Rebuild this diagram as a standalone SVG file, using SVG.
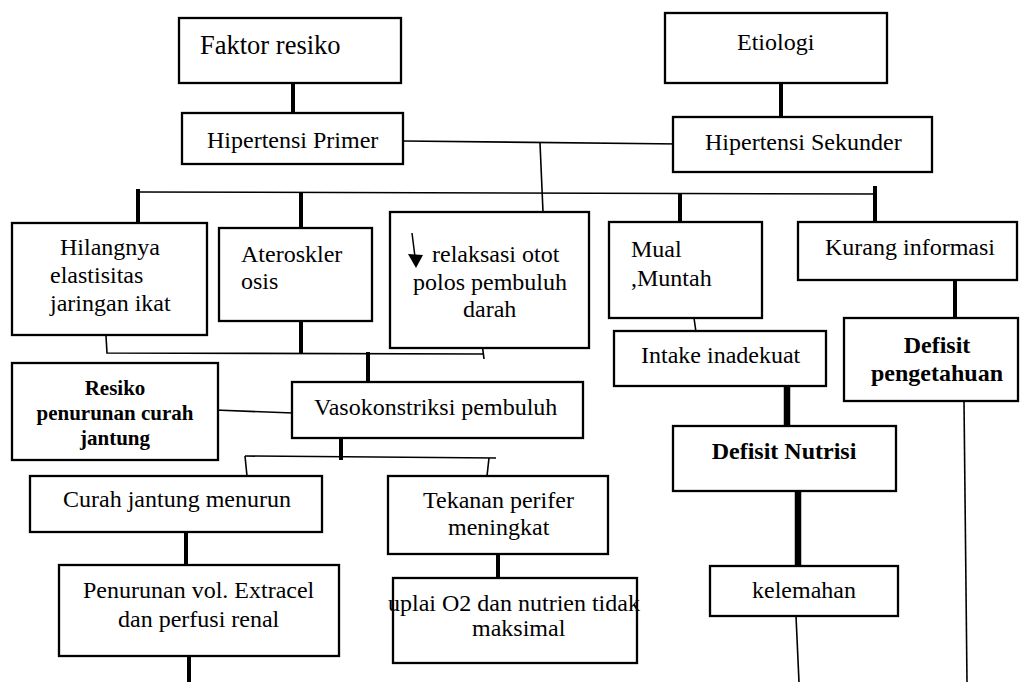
<svg xmlns="http://www.w3.org/2000/svg" width="1020" height="682" viewBox="0 0 1020 682">
<style>
.box{fill:#fff;stroke:#000;stroke-width:2.3}
.t{font-family:"Liberation Serif","Times New Roman",serif;font-size:24px;fill:#000}
.b{font-weight:bold}
.m{text-anchor:middle}
.thin{stroke:#000;stroke-width:1.6;fill:none}
.thick{stroke:#000;stroke-width:4;fill:none}
.thicker{stroke:#000;stroke-width:6.5;fill:none}
</style>
<rect width="1020" height="682" fill="#fff"/>
<g id="connectors">
<line class="thick" x1="293" y1="83" x2="293" y2="113"/>
<line class="thick" x1="781" y1="83" x2="781" y2="117"/>
<line class="thin" x1="404" y1="141" x2="680" y2="144"/>
<line class="thin" x1="540" y1="143" x2="543" y2="212"/>
<line class="thin" x1="138" y1="192" x2="877" y2="194"/>
<line class="thick" x1="138" y1="189" x2="138" y2="223"/>
<line class="thick" x1="301" y1="192" x2="301" y2="228"/>
<line class="thick" x1="680" y1="193" x2="680" y2="222"/>
<line class="thick" x1="875" y1="186" x2="875" y2="222"/>
<polyline class="thin" points="106,336 107,353 483,354"/>
<line class="thin" x1="482" y1="343" x2="484" y2="359"/>
<line class="thick" x1="301" y1="321" x2="301" y2="354"/>
<line class="thick" x1="368" y1="352" x2="368" y2="382"/>
<line class="thin" x1="215" y1="410" x2="293" y2="413"/>
<line class="thick" x1="341" y1="433" x2="341" y2="460"/>
<line class="thin" x1="245" y1="456" x2="496" y2="458"/>
<line class="thin" x1="245" y1="456" x2="247" y2="476"/>
<line class="thin" x1="489" y1="458" x2="487" y2="476"/>
<line class="thick" x1="186" y1="532" x2="186" y2="565"/>
<line class="thick" x1="498" y1="554" x2="498" y2="578"/>
<line class="thick" x1="189" y1="656" x2="189" y2="682"/>
<line class="thin" x1="694" y1="318" x2="697" y2="339"/>
<line class="thicker" x1="787" y1="386" x2="787" y2="426"/>
<line class="thicker" x1="798" y1="491" x2="798" y2="566"/>
<line class="thin" x1="796" y1="616" x2="799" y2="682"/>
<line class="thick" x1="955" y1="280" x2="955" y2="318"/>
<line class="thin" x1="964" y1="401" x2="967" y2="682"/>
</g>
<g id="faktor-resiko">
<rect class="box" x="179" y="18" width="222" height="65"/>
<text class="t" x="200" y="54" style="font-size:26.5px">Faktor resiko</text>
</g>
<g id="etiologi">
<rect class="box" x="665" y="13" width="222" height="70"/>
<text class="t" x="737" y="50">Etiologi</text>
</g>
<g id="hipertensi-primer">
<rect class="box" x="182" y="113" width="221" height="51"/>
<text class="t" x="207" y="148">Hipertensi Primer</text>
</g>
<g id="hipertensi-sekunder">
<rect class="box" x="673" y="117" width="259" height="55"/>
<text class="t" x="705" y="150">Hipertensi Sekunder</text>
</g>
<g id="hilangnya">
<rect class="box" x="12" y="223" width="195" height="112"/>
<text class="t" x="60" y="255">Hilangnya</text>
<text class="t" x="50" y="283">elastisitas</text>
<text class="t" x="50" y="311">jaringan ikat</text>
</g>
<g id="aterosklerosis">
<rect class="box" x="219" y="228" width="153" height="93"/>
<text class="t" x="241" y="262">Ateroskler</text>
<text class="t" x="241" y="289">osis</text>
</g>
<g id="relaksasi">
<rect class="box" x="390" y="212" width="199" height="136"/>
<line x1="412" y1="233" x2="415" y2="257" stroke="#000" stroke-width="1.5"/>
<polygon points="408,254 423,255 416,268" fill="#000"/>
<text class="t" x="432" y="262">relaksasi otot</text>
<text class="t" x="413" y="290">polos pembuluh</text>
<text class="t" x="463" y="317">darah</text>
</g>
<g id="mual-muntah">
<rect class="box" x="609" y="222" width="153" height="96"/>
<text class="t" x="631" y="257">Mual</text>
<text class="t" x="631" y="286">,Muntah</text>
</g>
<g id="kurang-informasi">
<rect class="box" x="798" y="222" width="219" height="58"/>
<text class="t" x="825" y="255">Kurang informasi</text>
</g>
<g id="defisit-pengetahuan">
<rect class="box" x="844" y="318" width="174" height="83"/>
<text class="t b m" x="937" y="353">Defisit</text>
<text class="t b m" x="937" y="381">pengetahuan</text>
</g>
<g id="intake-inadekuat">
<rect class="box" x="614" y="331" width="212" height="55"/>
<text class="t" x="641" y="363">Intake inadekuat</text>
</g>
<g id="defisit-nutrisi">
<rect class="box" x="673" y="426" width="223" height="65"/>
<text class="t b m" x="784" y="459">Defisit Nutrisi</text>
</g>
<g id="kelemahan">
<rect class="box" x="710" y="566" width="188" height="50"/>
<text class="t" x="752" y="598">kelemahan</text>
</g>
<g id="resiko">
<rect class="box" x="12" y="363" width="206" height="97"/>
<text class="t b m" x="115" y="395" style="font-size:21px">Resiko</text>
<text class="t b m" x="115" y="420" style="font-size:21px">penurunan curah</text>
<text class="t b m" x="115" y="445" style="font-size:21px">jantung</text>
</g>
<g id="vasokonstriksi">
<rect class="box" x="292" y="382" width="291" height="56"/>
<text class="t" x="314" y="415">Vasokonstriksi pembuluh</text>
</g>
<g id="curah-jantung">
<rect class="box" x="30" y="476" width="292" height="56"/>
<text class="t" x="63" y="507">Curah jantung menurun</text>
</g>
<g id="tekanan-perifer">
<rect class="box" x="388" y="476" width="220" height="78"/>
<text class="t" x="423" y="508">Tekanan perifer</text>
<text class="t" x="448" y="535">meningkat</text>
</g>
<g id="penurunan-vol">
<rect class="box" x="59" y="565" width="280" height="91"/>
<text class="t" x="83" y="598">Penurunan vol. Extracel</text>
<text class="t" x="118" y="627">dan perfusi renal</text>
</g>
<g id="suplai-o2">
<rect class="box" x="393" y="578" width="244" height="85"/>
<text class="t" x="388" y="611">uplai O2 dan nutrien tidak</text>
<text class="t" x="472" y="636">maksimal</text>
</g>
</svg>
